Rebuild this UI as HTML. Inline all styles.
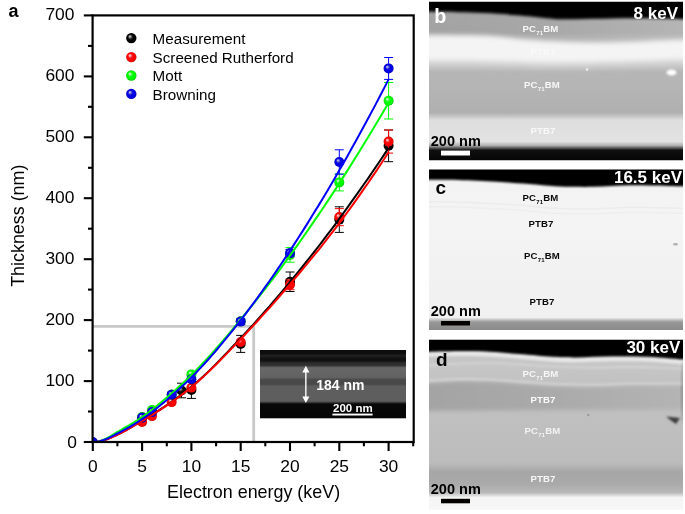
<!DOCTYPE html>
<html><head><meta charset="utf-8"><title>Figure</title>
<style>
html,body{margin:0;padding:0;background:#fff;}
body{width:685px;height:514px;overflow:hidden;font-family:"Liberation Sans",sans-serif;}
svg{display:block;will-change:transform;font-family:"Liberation Sans",sans-serif;}
.tk{font-size:17.4px;fill:#000;}
.lg{font-size:15.2px;fill:#000;}
.ax{font-size:17.9px;fill:#000;}
.pl{font-size:19px;font-weight:bold;}
.kv{font-size:17px;font-weight:bold;fill:#fff;}
.sb{font-size:14.5px;font-weight:bold;fill:#000;}
.ly{font-size:9.6px;font-weight:bold;letter-spacing:0.15px;}
</style></head><body>
<svg width="685" height="514" viewBox="0 0 685 514">
<defs>
<radialGradient id="g_black" cx="0.5" cy="0.5" r="0.5" fx="0.34" fy="0.31"><stop offset="0" stop-color="#dcdcdc"/><stop offset="0.2" stop-color="#888"/><stop offset="0.42" stop-color="#181818"/><stop offset="0.6" stop-color="#000"/><stop offset="1" stop-color="#000"/></radialGradient>
<radialGradient id="g_red" cx="0.5" cy="0.5" r="0.5" fx="0.34" fy="0.31"><stop offset="0" stop-color="#fae6e6"/><stop offset="0.2" stop-color="#f49090"/><stop offset="0.42" stop-color="#ff1010"/><stop offset="0.6" stop-color="#ff0000"/><stop offset="0.85" stop-color="#f80000"/><stop offset="1" stop-color="#c80000"/></radialGradient>
<radialGradient id="g_green" cx="0.5" cy="0.5" r="0.5" fx="0.34" fy="0.31"><stop offset="0" stop-color="#e8fae8"/><stop offset="0.2" stop-color="#98f498"/><stop offset="0.42" stop-color="#10ff10"/><stop offset="0.6" stop-color="#00ff00"/><stop offset="0.85" stop-color="#00f400"/><stop offset="1" stop-color="#00c000"/></radialGradient>
<radialGradient id="g_blue" cx="0.5" cy="0.5" r="0.5" fx="0.34" fy="0.31"><stop offset="0" stop-color="#dcdcf0"/><stop offset="0.2" stop-color="#8080d8"/><stop offset="0.42" stop-color="#1010e0"/><stop offset="0.6" stop-color="#0000e8"/><stop offset="0.85" stop-color="#0000e0"/><stop offset="1" stop-color="#0000a8"/></radialGradient>
<linearGradient id="insetg" x1="0" y1="0" x2="0" y2="1">
<stop offset="0" stop-color="#0c0c0c"/><stop offset="0.055" stop-color="#0e0e0e"/>
<stop offset="0.075" stop-color="#202020"/><stop offset="0.10" stop-color="#1c1c1c"/>
<stop offset="0.13" stop-color="#0e0e0e"/><stop offset="0.16" stop-color="#141414"/>
<stop offset="0.19" stop-color="#2c2c2c"/><stop offset="0.225" stop-color="#323232"/>
<stop offset="0.26" stop-color="#686868"/><stop offset="0.40" stop-color="#626262"/>
<stop offset="0.435" stop-color="#4a4a4a"/><stop offset="0.50" stop-color="#484848"/>
<stop offset="0.53" stop-color="#5e5e5e"/><stop offset="0.75" stop-color="#5e5e5e"/>
<stop offset="0.79" stop-color="#080808"/><stop offset="1" stop-color="#060606"/>
</linearGradient>
<clipPath id="cplot"><rect x="92.6" y="15.4" width="321.1" height="426.6"/></clipPath>
<clipPath id="cb"><rect x="429" y="1.8" width="254" height="158.8"/></clipPath>
<clipPath id="cc"><rect x="429" y="169.6" width="254" height="160.4"/></clipPath>
<clipPath id="cd"><rect x="429" y="339.7" width="254" height="170"/></clipPath>
<filter id="bl0_6" x="-10%" y="-50%" width="120%" height="200%"><feGaussianBlur stdDeviation="0.6"/></filter>
<filter id="bl1" x="-10%" y="-50%" width="120%" height="200%"><feGaussianBlur stdDeviation="1"/></filter>
<filter id="bl1_2" x="-10%" y="-50%" width="120%" height="200%"><feGaussianBlur stdDeviation="1.2"/></filter>
<filter id="bl1_5" x="-10%" y="-50%" width="120%" height="200%"><feGaussianBlur stdDeviation="1.5"/></filter>
<filter id="bl2" x="-10%" y="-50%" width="120%" height="200%"><feGaussianBlur stdDeviation="2"/></filter>
<filter id="bl2_5" x="-10%" y="-50%" width="120%" height="200%"><feGaussianBlur stdDeviation="2.5"/></filter>
<filter id="bl3" x="-10%" y="-50%" width="120%" height="200%"><feGaussianBlur stdDeviation="3"/></filter>
<linearGradient id="gbh" x1="0" y1="0" x2="1" y2="0"><stop offset="0" stop-color="#fff" stop-opacity="0"/><stop offset="0.45" stop-color="#fff" stop-opacity="0.05"/><stop offset="1" stop-color="#fff" stop-opacity="0.2"/></linearGradient>
<linearGradient id="gb" gradientUnits="userSpaceOnUse" x1="0" y1="2" x2="0" y2="160.5">
<stop offset="0" stop-color="#a6a6a6"/>
<stop offset="0.19" stop-color="#a2a2a2"/>
<stop offset="0.36" stop-color="#d0d0d0"/>
<stop offset="0.40" stop-color="#c4c4c4"/>
<stop offset="0.44" stop-color="#b6b6b6"/>
<stop offset="0.55" stop-color="#b4b4b4"/>
<stop offset="0.70" stop-color="#b0b0b0"/>
<stop offset="0.745" stop-color="#dedede"/>
<stop offset="0.88" stop-color="#e2e2e2"/>
<stop offset="0.905" stop-color="#b0b0b0"/>
<stop offset="0.935" stop-color="#101010"/>
<stop offset="1" stop-color="#050505"/>
</linearGradient>
<linearGradient id="gc" gradientUnits="userSpaceOnUse" x1="0" y1="169.7" x2="0" y2="330">
<stop offset="0" stop-color="#f2f2f2"/>
<stop offset="0.3" stop-color="#f4f4f4"/>
<stop offset="0.922" stop-color="#f0f0f0"/>
<stop offset="0.95" stop-color="#989898"/>
<stop offset="1" stop-color="#8a8a8a"/>
</linearGradient>
<linearGradient id="gdv" x1="0" y1="0" x2="1" y2="0"><stop offset="0" stop-color="#000" stop-opacity="0"/><stop offset="1" stop-color="#000" stop-opacity="0.22"/></linearGradient>
<linearGradient id="gdh" gradientUnits="userSpaceOnUse" x1="429" y1="0" x2="683" y2="0"><stop offset="0" stop-color="#a4a4a4"/><stop offset="0.5" stop-color="#aaaaaa"/><stop offset="1" stop-color="#b4b4b4"/></linearGradient>
<linearGradient id="gd" gradientUnits="userSpaceOnUse" x1="0" y1="339.7" x2="0" y2="511.7">
<stop offset="0" stop-color="#c2c2c2"/>
<stop offset="0.153" stop-color="#c6c6c6"/>
<stop offset="0.234" stop-color="#c2c2c2"/>
<stop offset="0.42" stop-color="#c0c0c0"/>
<stop offset="0.583" stop-color="#bebebe"/>
<stop offset="0.715" stop-color="#bcbcbc"/>
<stop offset="0.77" stop-color="#a6a6a6"/>
<stop offset="0.84" stop-color="#aaaaaa"/>
<stop offset="0.888" stop-color="#b8b8b8"/>
<stop offset="0.9175" stop-color="#f4f4f4"/>
<stop offset="1" stop-color="#f8f8f8"/>
</linearGradient>
</defs>
<rect width="685" height="514" fill="#fff"/>

<!-- ===== panel a: plot ===== -->
<text x="8.6" y="17.2" class="pl" style="font-size:18px" fill="#000">a</text>
<!-- gray reference lines -->
<path d="M93,326.3 H253.7 V442" stroke="#c8c8c8" stroke-width="2.8" fill="none"/>
<!-- inset SEM image -->
<g>
<rect x="260" y="350" width="146" height="68.3" fill="url(#insetg)"/>
<path d="M305.85,369 V400" stroke="#fff" stroke-width="1.4"/>
<path d="M305.85,365.8 L302.3,372.4 H309.4 Z M305.85,403 L302.3,396.4 H309.4 Z" fill="#fff"/>
<text x="316.3" y="389.6" font-size="14" font-weight="bold" fill="#fff">184 nm</text>
<text x="333" y="412.2" font-size="11.5" font-weight="bold" fill="#fff">200 nm</text>
<rect x="332.4" y="413.6" width="40.2" height="1.9" fill="#fff"/>
</g>

<g clip-path="url(#cplot)">
<path d="M181.5,383.2 V397.8 M177.0,383.2 H186.0 M177.0,397.8 H186.0" stroke="#000" stroke-width="1" fill="none"/>
<circle cx="181.5" cy="390.5" r="5.0" fill="url(#g_black)"/>
<path d="M191.4,381.4 V398.4 M186.9,381.4 H195.9 M186.9,398.4 H195.9" stroke="#000" stroke-width="1" fill="none"/>
<circle cx="191.4" cy="389.9" r="5.0" fill="url(#g_black)"/>
<path d="M240.7,335.4 V352.4 M236.2,335.4 H245.2 M236.2,352.4 H245.2" stroke="#000" stroke-width="1" fill="none"/>
<circle cx="240.7" cy="343.9" r="5.0" fill="url(#g_black)"/>
<path d="M290.0,272.0 V291.5 M285.5,272.0 H294.5 M285.5,291.5 H294.5" stroke="#000" stroke-width="1" fill="none"/>
<circle cx="290.0" cy="281.7" r="5.0" fill="url(#g_black)"/>
<path d="M339.3,206.8 V232.4 M334.8,206.8 H343.8 M334.8,232.4 H343.8" stroke="#000" stroke-width="1" fill="none"/>
<circle cx="339.3" cy="219.6" r="5.0" fill="url(#g_black)"/>
<path d="M388.6,130.0 V161.7 M384.1,130.0 H393.1 M384.1,161.7 H393.1" stroke="#000" stroke-width="1" fill="none"/>
<circle cx="388.6" cy="145.8" r="5.0" fill="url(#g_black)"/>
<circle cx="142.1" cy="421.9" r="5.0" fill="url(#g_red)"/>
<circle cx="152.0" cy="416.1" r="5.0" fill="url(#g_red)"/>
<circle cx="171.7" cy="402.1" r="5.0" fill="url(#g_red)"/>
<circle cx="191.4" cy="387.8" r="5.0" fill="url(#g_red)"/>
<circle cx="240.7" cy="342.1" r="5.0" fill="url(#g_red)"/>
<path d="M290.0,279.9 V289.7 M285.5,279.9 H294.5 M285.5,289.7 H294.5" stroke="#f00" stroke-width="1" fill="none"/>
<circle cx="290.0" cy="284.8" r="5.0" fill="url(#g_red)"/>
<path d="M339.3,208.6 V225.7 M334.8,208.6 H343.8 M334.8,225.7 H343.8" stroke="#f00" stroke-width="1" fill="none"/>
<circle cx="339.3" cy="217.1" r="5.0" fill="url(#g_red)"/>
<path d="M388.6,130.0 V153.1 M384.1,130.0 H393.1 M384.1,153.1 H393.1" stroke="#f00" stroke-width="1" fill="none"/>
<circle cx="388.6" cy="141.6" r="5.0" fill="url(#g_red)"/>
<circle cx="142.1" cy="417.0" r="5.0" fill="url(#g_green)"/>
<circle cx="152.0" cy="410.0" r="5.0" fill="url(#g_green)"/>
<circle cx="171.7" cy="394.5" r="5.0" fill="url(#g_green)"/>
<circle cx="191.4" cy="374.4" r="5.0" fill="url(#g_green)"/>
<path d="M240.7,318.3 V324.4 M236.2,318.3 H245.2 M236.2,324.4 H245.2" stroke="#0f0" stroke-width="1" fill="none"/>
<circle cx="240.7" cy="321.3" r="5.0" fill="url(#g_green)"/>
<path d="M290.0,247.6 V262.2 M285.5,247.6 H294.5 M285.5,262.2 H294.5" stroke="#0f0" stroke-width="1" fill="none"/>
<circle cx="290.0" cy="254.9" r="5.0" fill="url(#g_green)"/>
<path d="M339.3,173.9 V190.9 M334.8,173.9 H343.8 M334.8,190.9 H343.8" stroke="#0f0" stroke-width="1" fill="none"/>
<circle cx="339.3" cy="182.4" r="5.0" fill="url(#g_green)"/>
<path d="M388.6,82.5 V119.0 M384.1,82.5 H393.1 M384.1,119.0 H393.1" stroke="#0f0" stroke-width="1" fill="none"/>
<circle cx="388.6" cy="100.7" r="5.0" fill="url(#g_green)"/>
<circle cx="92.8" cy="442.0" r="5.0" fill="url(#g_blue)"/>
<circle cx="142.1" cy="417.6" r="5.0" fill="url(#g_blue)"/>
<circle cx="152.0" cy="412.1" r="5.0" fill="url(#g_blue)"/>
<path d="M171.7,392.3 V397.2 M167.2,392.3 H176.2 M167.2,397.2 H176.2" stroke="#00f" stroke-width="1" fill="none"/>
<circle cx="171.7" cy="394.8" r="5.0" fill="url(#g_blue)"/>
<circle cx="191.4" cy="379.2" r="5.0" fill="url(#g_blue)"/>
<path d="M240.7,318.6 V324.7 M236.2,318.6 H245.2 M236.2,324.7 H245.2" stroke="#00f" stroke-width="1" fill="none"/>
<circle cx="240.7" cy="321.6" r="5.0" fill="url(#g_blue)"/>
<path d="M290.0,249.4 V256.7 M285.5,249.4 H294.5 M285.5,256.7 H294.5" stroke="#00f" stroke-width="1" fill="none"/>
<circle cx="290.0" cy="253.1" r="5.0" fill="url(#g_blue)"/>
<path d="M339.3,149.8 V174.2 M334.8,149.8 H343.8 M334.8,174.2 H343.8" stroke="#00f" stroke-width="1" fill="none"/>
<circle cx="339.3" cy="162.0" r="5.0" fill="url(#g_blue)"/>
<path d="M388.6,57.5 V79.4 M384.1,57.5 H393.1 M384.1,79.4 H393.1" stroke="#00f" stroke-width="1" fill="none"/>
<circle cx="388.6" cy="68.4" r="5.0" fill="url(#g_blue)"/>
<path d="M96.3,442.0 L97.0,441.9 L97.7,441.8 L98.5,441.7 L99.2,441.5 L99.9,441.4 L100.7,441.2 L101.4,441.0 L102.2,440.8 L102.9,440.5 L103.6,440.3 L104.4,440.0 L105.1,439.8 L106.2,439.5 L107.2,439.1 L108.2,438.7 L109.2,438.3 L110.3,437.8 L111.3,437.4 L112.3,436.9 L113.3,436.4 L114.4,436.0 L115.4,435.5 L116.4,435.0 L117.4,434.5 L119.5,433.5 L121.6,432.5 L123.6,431.4 L125.7,430.3 L127.7,429.1 L129.8,428.0 L131.8,426.8 L133.9,425.6 L135.9,424.4 L138.0,423.1 L140.0,421.9 L142.1,420.7 L144.2,419.4 L146.2,418.2 L148.3,417.0 L150.3,415.7 L152.4,414.5 L154.4,413.2 L156.5,411.9 L158.5,410.6 L160.6,409.2 L162.6,407.9 L164.7,406.5 L166.8,405.1 L168.8,403.7 L170.9,402.3 L172.9,400.8 L175.0,399.4 L177.0,397.9 L179.1,396.4 L181.1,394.9 L183.2,393.3 L185.2,391.8 L187.3,390.2 L189.3,388.5 L191.4,386.8 L195.5,383.4 L199.6,379.7 L203.7,376.0 L207.8,372.1 L211.9,368.1 L216.1,363.9 L220.2,359.8 L224.3,355.5 L228.4,351.2 L232.5,346.8 L236.6,342.5 L240.7,338.1 L244.8,333.7 L248.9,329.3 L253.0,324.8 L257.1,320.2 L261.2,315.6 L265.3,311.0 L269.5,306.3 L273.6,301.5 L277.7,296.7 L281.8,291.9 L285.9,287.0 L290.0,282.0 L294.1,277.0 L298.2,272.0 L302.3,266.9 L306.4,261.7 L310.5,256.5 L314.6,251.3 L318.8,246.0 L322.9,240.6 L327.0,235.2 L331.1,229.8 L335.2,224.3 L339.3,218.7 L343.4,213.1 L347.5,207.4 L351.6,201.7 L355.7,195.9 L359.8,190.1 L363.9,184.2 L368.1,178.3 L372.2,172.3 L376.3,166.3 L380.4,160.2 L384.5,154.1 L388.6,147.9" stroke="#000000" stroke-width="2" fill="none" stroke-linejoin="round"/>
<path d="M96.3,442.0 L97.0,441.9 L97.7,441.8 L98.5,441.7 L99.2,441.6 L99.9,441.4 L100.7,441.2 L101.4,441.0 L102.2,440.8 L102.9,440.6 L103.6,440.4 L104.4,440.2 L105.1,439.9 L106.2,439.6 L107.2,439.2 L108.2,438.8 L109.2,438.4 L110.3,438.0 L111.3,437.5 L112.3,437.1 L113.3,436.6 L114.4,436.1 L115.4,435.7 L116.4,435.2 L117.4,434.7 L119.5,433.7 L121.6,432.7 L123.6,431.6 L125.7,430.5 L127.7,429.4 L129.8,428.2 L131.8,427.0 L133.9,425.8 L135.9,424.6 L138.0,423.4 L140.0,422.2 L142.1,421.0 L144.2,419.8 L146.2,418.5 L148.3,417.3 L150.3,416.0 L152.4,414.8 L154.4,413.5 L156.5,412.2 L158.5,410.9 L160.6,409.6 L162.6,408.2 L164.7,406.8 L166.8,405.4 L168.8,404.0 L170.9,402.6 L172.9,401.1 L175.0,399.7 L177.0,398.2 L179.1,396.7 L181.1,395.2 L183.2,393.6 L185.2,392.1 L187.3,390.5 L189.3,388.8 L191.4,387.2 L195.5,383.7 L199.6,380.1 L203.7,376.4 L207.8,372.5 L211.9,368.5 L216.1,364.5 L220.2,360.3 L224.3,356.1 L228.4,351.9 L232.5,347.6 L236.6,343.3 L240.7,339.0 L244.8,334.7 L248.9,330.3 L253.0,325.9 L257.1,321.5 L261.2,316.9 L265.3,312.4 L269.5,307.8 L273.6,303.2 L277.7,298.5 L281.8,293.7 L285.9,289.0 L290.0,284.2 L294.1,279.3 L298.2,274.5 L302.3,269.6 L306.4,264.6 L310.5,259.7 L314.6,254.6 L318.8,249.6 L322.9,244.4 L327.0,239.2 L331.1,233.9 L335.2,228.6 L339.3,223.1 L343.4,217.6 L347.5,212.0 L351.6,206.3 L355.7,200.6 L359.8,194.8 L363.9,188.9 L368.1,183.0 L372.2,176.9 L376.3,170.9 L380.4,164.7 L384.5,158.5 L388.6,152.2" stroke="#ff0000" stroke-width="2" fill="none" stroke-linejoin="round"/>
<path d="M96.3,442.0 L97.0,441.9 L97.7,441.8 L98.5,441.6 L99.2,441.4 L99.9,441.1 L100.7,440.8 L101.4,440.6 L102.2,440.3 L102.9,439.9 L103.6,439.6 L104.4,439.3 L105.1,439.0 L106.2,438.5 L107.2,438.0 L108.2,437.4 L109.2,436.9 L110.3,436.3 L111.3,435.7 L112.3,435.1 L113.3,434.4 L114.4,433.8 L115.4,433.2 L116.4,432.5 L117.4,431.9 L119.5,430.8 L121.6,429.6 L123.6,428.4 L125.7,427.2 L127.7,426.0 L129.8,424.8 L131.8,423.6 L133.9,422.4 L135.9,421.1 L138.0,419.8 L140.0,418.4 L142.1,417.0 L144.2,415.6 L146.2,414.1 L148.3,412.5 L150.3,411.0 L152.4,409.4 L154.4,407.7 L156.5,406.1 L158.5,404.4 L160.6,402.7 L162.6,401.0 L164.7,399.3 L166.8,397.5 L168.8,395.8 L170.9,394.0 L172.9,392.2 L175.0,390.4 L177.0,388.5 L179.1,386.6 L181.1,384.8 L183.2,382.9 L185.2,380.9 L187.3,379.0 L189.3,377.0 L191.4,375.0 L195.5,370.9 L199.6,366.6 L203.7,362.3 L207.8,357.8 L211.9,353.3 L216.1,348.6 L220.2,343.9 L224.3,339.1 L228.4,334.3 L232.5,329.4 L236.6,324.5 L240.7,319.5 L244.8,314.5 L248.9,309.4 L253.0,304.3 L257.1,299.1 L261.2,293.9 L265.3,288.6 L269.5,283.2 L273.6,277.8 L277.7,272.3 L281.8,266.8 L285.9,261.2 L290.0,255.5 L294.1,249.8 L298.2,244.1 L302.3,238.2 L306.4,232.4 L310.5,226.4 L314.6,220.4 L318.8,214.4 L322.9,208.3 L327.0,202.1 L331.1,195.9 L335.2,189.6 L339.3,183.2 L343.4,176.9 L347.5,170.4 L351.6,163.9 L355.7,157.3 L359.8,150.7 L363.9,144.0 L368.1,137.3 L372.2,130.5 L376.3,123.6 L380.4,116.7 L384.5,109.7 L388.6,102.7" stroke="#00ff00" stroke-width="2" fill="none" stroke-linejoin="round"/>
<path d="M96.3,442.0 L97.0,441.9 L97.7,441.8 L98.5,441.6 L99.2,441.5 L99.9,441.3 L100.7,441.0 L101.4,440.8 L102.2,440.5 L102.9,440.3 L103.6,440.0 L104.4,439.7 L105.1,439.4 L106.2,439.0 L107.2,438.6 L108.2,438.2 L109.2,437.7 L110.3,437.2 L111.3,436.7 L112.3,436.2 L113.3,435.6 L114.4,435.1 L115.4,434.5 L116.4,434.0 L117.4,433.5 L119.5,432.4 L121.6,431.3 L123.6,430.2 L125.7,429.1 L127.7,428.0 L129.8,426.8 L131.8,425.6 L133.9,424.4 L135.9,423.1 L138.0,421.9 L140.0,420.5 L142.1,419.1 L144.2,417.7 L146.2,416.3 L148.3,414.8 L150.3,413.2 L152.4,411.7 L154.4,410.1 L156.5,408.4 L158.5,406.8 L160.6,405.1 L162.6,403.4 L164.7,401.7 L166.8,400.0 L168.8,398.2 L170.9,396.4 L172.9,394.6 L175.0,392.8 L177.0,391.0 L179.1,389.1 L181.1,387.3 L183.2,385.3 L185.2,383.4 L187.3,381.4 L189.3,379.4 L191.4,377.4 L195.5,373.2 L199.6,368.9 L203.7,364.5 L207.8,360.0 L211.9,355.3 L216.1,350.5 L220.2,345.7 L224.3,340.7 L228.4,335.7 L232.5,330.6 L236.6,325.4 L240.7,320.1 L244.8,314.8 L248.9,309.4 L253.0,303.9 L257.1,298.3 L261.2,292.6 L265.3,286.8 L269.5,281.0 L273.6,275.1 L277.7,269.1 L281.8,263.0 L285.9,256.9 L290.0,250.6 L294.1,244.4 L298.2,238.0 L302.3,231.6 L306.4,225.1 L310.5,218.5 L314.6,211.8 L318.8,205.1 L322.9,198.3 L327.0,191.4 L331.1,184.5 L335.2,177.4 L339.3,170.3 L343.4,163.2 L347.5,155.9 L351.6,148.6 L355.7,141.2 L359.8,133.7 L363.9,126.2 L368.1,118.6 L372.2,110.9 L376.3,103.1 L380.4,95.3 L384.5,87.4 L388.6,79.4" stroke="#0000ff" stroke-width="2" fill="none" stroke-linejoin="round"/>
</g>
<!-- frame -->
<rect x="92.6" y="15.4" width="321.1" height="426.6" fill="none" stroke="#000" stroke-width="2.2"/>
<path d="M83.8,442.0 H93" stroke="#000" stroke-width="2.1"/>
<text x="76.9" y="447.7" text-anchor="end" class="tk">0</text>
<path d="M83.8,381.1 H93" stroke="#000" stroke-width="2.1"/>
<text x="74.4" y="386.1" text-anchor="end" class="tk">100</text>
<path d="M83.8,320.1 H93" stroke="#000" stroke-width="2.1"/>
<text x="74.4" y="325.1" text-anchor="end" class="tk">200</text>
<path d="M83.8,259.2 H93" stroke="#000" stroke-width="2.1"/>
<text x="74.4" y="264.2" text-anchor="end" class="tk">300</text>
<path d="M83.8,198.2 H93" stroke="#000" stroke-width="2.1"/>
<text x="74.4" y="203.2" text-anchor="end" class="tk">400</text>
<path d="M83.8,137.3 H93" stroke="#000" stroke-width="2.1"/>
<text x="74.4" y="142.3" text-anchor="end" class="tk">500</text>
<path d="M83.8,76.4 H93" stroke="#000" stroke-width="2.1"/>
<text x="74.4" y="81.4" text-anchor="end" class="tk">600</text>
<path d="M83.8,15.4 H93" stroke="#000" stroke-width="2.1"/>
<text x="74.4" y="20.4" text-anchor="end" class="tk">700</text>
<path d="M88,411.5 H93" stroke="#000" stroke-width="2.1"/>
<path d="M88,350.6 H93" stroke="#000" stroke-width="2.1"/>
<path d="M88,289.6 H93" stroke="#000" stroke-width="2.1"/>
<path d="M88,228.7 H93" stroke="#000" stroke-width="2.1"/>
<path d="M88,167.8 H93" stroke="#000" stroke-width="2.1"/>
<path d="M88,106.8 H93" stroke="#000" stroke-width="2.1"/>
<path d="M88,45.9 H93" stroke="#000" stroke-width="2.1"/>
<path d="M92.8,442 V451" stroke="#000" stroke-width="2.1"/>
<text x="92.8" y="472" text-anchor="middle" class="tk">0</text>
<path d="M142.1,442 V451" stroke="#000" stroke-width="2.1"/>
<text x="142.1" y="472" text-anchor="middle" class="tk">5</text>
<path d="M191.4,442 V451" stroke="#000" stroke-width="2.1"/>
<text x="191.4" y="472" text-anchor="middle" class="tk">10</text>
<path d="M240.7,442 V451" stroke="#000" stroke-width="2.1"/>
<text x="240.7" y="472" text-anchor="middle" class="tk">15</text>
<path d="M290.0,442 V451" stroke="#000" stroke-width="2.1"/>
<text x="290.0" y="472" text-anchor="middle" class="tk">20</text>
<path d="M339.3,442 V451" stroke="#000" stroke-width="2.1"/>
<text x="339.3" y="472" text-anchor="middle" class="tk">25</text>
<path d="M388.6,442 V451" stroke="#000" stroke-width="2.1"/>
<text x="388.6" y="472" text-anchor="middle" class="tk">30</text>
<path d="M117.4,442 V446.3" stroke="#000" stroke-width="2.1"/>
<path d="M166.8,442 V446.3" stroke="#000" stroke-width="2.1"/>
<path d="M216.1,442 V446.3" stroke="#000" stroke-width="2.1"/>
<path d="M265.3,442 V446.3" stroke="#000" stroke-width="2.1"/>
<path d="M314.6,442 V446.3" stroke="#000" stroke-width="2.1"/>
<path d="M363.9,442 V446.3" stroke="#000" stroke-width="2.1"/>
<path d="M413.2,442 V446.3" stroke="#000" stroke-width="2.1"/>
<text x="253.6" y="497.5" text-anchor="middle" class="ax">Electron energy (keV)</text>
<text transform="translate(23.6,225.7) rotate(-90)" text-anchor="middle" class="ax">Thickness (nm)</text>
<!-- legend -->
<circle cx="131.3" cy="38.1" r="5.2" fill="url(#g_black)"/>
<circle cx="131.3" cy="57.1" r="5.2" fill="url(#g_red)"/>
<circle cx="131.3" cy="75.5" r="5.2" fill="url(#g_green)"/>
<circle cx="131.3" cy="93.9" r="5.2" fill="url(#g_blue)"/>
<text x="152.6" y="43.9" class="lg">Measurement</text>
<text x="152.6" y="62.8" class="lg">Screened Rutherford</text>
<text x="152.6" y="81.3" class="lg">Mott</text>
<text x="152.6" y="99.7" class="lg">Browning</text>

<g clip-path="url(#cb)">
<rect x="429" y="2" width="256" height="158.5" fill="url(#gb)"/>
<rect x="429" y="2" width="254" height="45" fill="url(#gbh)"/>
<path d="M420.0,41.0 C421.5,41.0 421.8,41.0 429.0,41.0 C436.2,41.0 452.7,41.1 463.0,41.3 C473.3,41.5 481.5,41.4 491.0,42.0 C500.5,42.6 509.5,44.0 520.0,44.9 C530.5,45.8 541.8,46.7 554.0,47.3 C566.2,47.9 580.2,48.6 593.0,48.7 C605.8,48.8 618.3,48.4 631.0,48.0 C643.7,47.6 660.3,46.5 669.0,46.2 C677.7,45.9 678.7,46.0 683.0,46.0 C687.3,46.0 693.0,46.0 695.0,46.0 L695.0,64.5 C693.0,64.5 687.3,64.5 683.0,64.5 C678.7,64.5 680.8,64.4 669.0,64.7 C657.2,65.0 631.2,66.1 612.0,66.6 C592.8,67.1 574.2,67.6 554.0,67.5 C533.8,67.4 511.8,66.3 491.0,66.0 C470.2,65.7 440.8,65.6 429.0,65.5 C417.2,65.4 421.5,65.5 420.0,65.5 Z" fill="#d4d4d4" filter="url(#bl3)"/>
<path d="M420.0,35.0 C421.5,35.0 421.8,35.0 429.0,35.0 C436.2,35.0 452.7,35.1 463.0,35.3 C473.3,35.5 481.5,35.4 491.0,36.0 C500.5,36.6 509.5,38.0 520.0,38.9 C530.5,39.8 541.8,40.7 554.0,41.3 C566.2,41.9 580.2,42.6 593.0,42.7 C605.8,42.8 618.3,42.4 631.0,42.0 C643.7,41.6 660.3,40.5 669.0,40.2 C677.7,39.9 678.7,40.0 683.0,40.0 C687.3,40.0 693.0,40.0 695.0,40.0 L695.0,59.5 C693.0,59.5 687.3,59.5 683.0,59.5 C678.7,59.5 680.8,59.4 669.0,59.7 C657.2,60.1 631.2,61.1 612.0,61.6 C592.8,62.1 574.2,62.6 554.0,62.5 C533.8,62.4 511.8,61.3 491.0,61.0 C470.2,60.7 440.8,60.6 429.0,60.5 C417.2,60.4 421.5,60.5 420.0,60.5 Z" fill="#f4f4f4" filter="url(#bl2_5)"/>
<path d="M420,90.3 H695" stroke="#a4a4a4" stroke-width="1.2" filter="url(#bl0_6)"/>
<path d="M420.0,-10.0 L420.0,11.8 C421.5,11.8 421.8,11.7 429.0,11.8 C436.2,11.9 452.7,12.1 463.0,12.3 C473.3,12.6 481.5,12.8 491.0,13.3 C500.5,13.9 509.5,14.7 520.0,15.6 C530.5,16.6 545.0,18.4 554.0,19.0 C563.0,19.6 567.5,19.2 574.0,19.2 C580.5,19.2 586.7,18.9 593.0,18.8 C599.3,18.7 605.7,18.5 612.0,18.4 C618.3,18.3 624.7,18.2 631.0,18.2 C637.3,18.2 643.7,18.1 650.0,18.2 C656.3,18.3 663.5,18.6 669.0,18.8 C674.5,19.0 678.7,19.1 683.0,19.2 C687.3,19.3 693.0,19.2 695.0,19.2 L695.0,-10.0 Z" fill="#030303" filter="url(#bl1_5)"/>
<ellipse cx="671.5" cy="72.5" rx="5" ry="3" fill="#fff" filter="url(#bl1)"/>
<circle cx="587" cy="69.6" r="1.3" fill="#eee" filter="url(#bl0_6)"/>
</g>
<text x="434.3" y="22.8" class="pl" style="font-size:19.8px" fill="#fff">b</text>
<text x="678" y="18.6" text-anchor="end" class="kv">8 keV</text>
<text x="430.8" y="145.9" class="sb">200 nm</text>
<rect x="441" y="150.6" width="29" height="4.9" fill="#fff"/>
<text x="540.5" y="31.7" class="ly" fill="#fff" opacity="0.9" text-anchor="middle">PC<tspan font-size="6" dy="2.8">71</tspan><tspan dy="-2.8">BM</tspan></text>
<text x="543.0" y="55.2" class="ly" fill="#fff" opacity="0.5" text-anchor="middle">PTB7</text>
<text x="542.0" y="87.7" class="ly" fill="#fff" opacity="0.9" text-anchor="middle">PC<tspan font-size="6" dy="2.8">71</tspan><tspan dy="-2.8">BM</tspan></text>
<text x="543.0" y="134.2" class="ly" fill="#fff" opacity="0.8" text-anchor="middle">PTB7</text>
<g clip-path="url(#cc)">
<rect x="429" y="169.7" width="256" height="160.3" fill="url(#gc)"/>
<path d="M420.0,201.8 C421.5,201.8 421.8,201.7 429.0,201.8 C436.2,201.9 451.0,201.8 463.0,202.2 C475.0,202.6 490.0,203.4 501.0,204.0 C512.0,204.6 520.0,205.3 529.0,206.0 C538.0,206.7 547.5,207.8 555.0,208.3 C562.5,208.8 567.7,208.7 574.0,208.8 C580.3,208.9 586.7,209.0 593.0,208.8 C599.3,208.7 605.7,208.2 612.0,207.9 C618.3,207.7 624.7,207.4 631.0,207.3 C637.3,207.2 643.7,207.4 650.0,207.5 C656.3,207.6 663.5,207.8 669.0,207.9 C674.5,208.0 678.7,208.2 683.0,208.3 C687.3,208.4 693.0,208.3 695.0,208.3" stroke="#ececec" stroke-width="1.5" fill="none" filter="url(#bl0_6)"/>
<path d="M420.0,206.8 C421.5,206.8 421.8,206.7 429.0,206.8 C436.2,206.9 451.0,206.8 463.0,207.2 C475.0,207.6 490.0,208.4 501.0,209.0 C512.0,209.6 520.0,210.3 529.0,211.0 C538.0,211.7 547.5,212.8 555.0,213.3 C562.5,213.8 567.7,213.7 574.0,213.8 C580.3,213.9 586.7,214.0 593.0,213.8 C599.3,213.7 605.7,213.2 612.0,212.9 C618.3,212.7 624.7,212.4 631.0,212.3 C637.3,212.2 643.7,212.4 650.0,212.5 C656.3,212.6 663.5,212.8 669.0,212.9 C674.5,213.0 678.7,213.2 683.0,213.3 C687.3,213.4 693.0,213.3 695.0,213.3" stroke="#eeeeee" stroke-width="1.5" fill="none" filter="url(#bl0_6)"/>
<path d="M420,234 H695" stroke="#ebebeb" stroke-width="1.5" filter="url(#bl0_6)"/>
<path d="M420,260 H695" stroke="#ebebeb" stroke-width="1.5" filter="url(#bl0_6)"/>
<path d="M420,289 H695" stroke="#ebebeb" stroke-width="1.5" filter="url(#bl0_6)"/>
<path d="M420.0,150.0 L420.0,179.8 C421.5,179.8 421.8,179.7 429.0,179.8 C436.2,179.9 451.0,179.8 463.0,180.2 C475.0,180.6 490.0,181.4 501.0,182.0 C512.0,182.6 520.0,183.3 529.0,184.0 C538.0,184.7 547.5,185.8 555.0,186.3 C562.5,186.8 567.7,186.7 574.0,186.8 C580.3,186.9 586.7,187.0 593.0,186.8 C599.3,186.7 605.7,186.2 612.0,185.9 C618.3,185.7 624.7,185.4 631.0,185.3 C637.3,185.2 643.7,185.4 650.0,185.5 C656.3,185.6 663.5,185.8 669.0,185.9 C674.5,186.0 678.7,186.2 683.0,186.3 C687.3,186.4 693.0,186.3 695.0,186.3 L695.0,150.0 Z" fill="#030303" filter="url(#bl1_2)"/>
<ellipse cx="675.5" cy="244.3" rx="2.5" ry="1.3" fill="#b0b0b0" filter="url(#bl0_6)"/>
</g>
<text x="435.4" y="193.6" class="pl" fill="#000">c</text>
<text x="682" y="183.2" text-anchor="end" class="kv">16.5 keV</text>
<text x="430.8" y="316.1" class="sb">200 nm</text>
<rect x="441" y="321" width="29" height="4.5" fill="#050000"/>
<text x="540.5" y="200.7" class="ly" fill="#0a0a0a" opacity="1" text-anchor="middle">PC<tspan font-size="6" dy="2.8">71</tspan><tspan dy="-2.8">BM</tspan></text>
<text x="541.0" y="227.2" class="ly" fill="#0a0a0a" opacity="1" text-anchor="middle">PTB7</text>
<text x="542.0" y="258.7" class="ly" fill="#0a0a0a" opacity="1" text-anchor="middle">PC<tspan font-size="6" dy="2.8">71</tspan><tspan dy="-2.8">BM</tspan></text>
<text x="542.0" y="305.0" class="ly" fill="#0a0a0a" opacity="1" text-anchor="middle">PTB7</text>
<g clip-path="url(#cd)">
<rect x="429" y="339.7" width="256" height="172" fill="url(#gd)"/>
<path d="M420.0,383.0 C421.5,383.0 421.8,383.2 429.0,383.0 C436.2,382.8 452.7,381.6 463.0,381.5 C473.3,381.4 481.5,381.7 491.0,382.1 C500.5,382.5 509.5,383.3 520.0,384.0 C530.5,384.7 541.8,385.9 554.0,386.4 C566.2,386.9 580.2,387.3 593.0,387.2 C605.8,387.1 618.3,386.1 631.0,385.9 C643.7,385.7 660.3,385.9 669.0,385.9 C677.7,385.9 678.7,385.9 683.0,385.9 C687.3,385.9 693.0,385.9 695.0,385.9 L695.0,409.5 C693.0,409.5 705.5,409.4 683.0,409.5 C660.5,409.6 590.5,409.8 560.0,410.0 C529.5,410.2 521.8,410.4 500.0,410.5 C478.2,410.6 442.3,410.8 429.0,410.9 C415.7,411.0 421.5,410.9 420.0,410.9 Z" fill="url(#gdh)" filter="url(#bl2)"/>
<path d="M420.0,380.5 C421.5,380.5 421.8,380.8 429.0,380.5 C436.2,380.2 452.7,379.1 463.0,379.0 C473.3,378.9 481.5,379.2 491.0,379.6 C500.5,380.0 509.5,380.8 520.0,381.5 C530.5,382.2 541.8,383.4 554.0,383.9 C566.2,384.4 580.2,384.8 593.0,384.7 C605.8,384.6 618.3,383.6 631.0,383.4 C643.7,383.2 660.3,383.4 669.0,383.4 C677.7,383.4 678.7,383.4 683.0,383.4 C687.3,383.4 693.0,383.4 695.0,383.4" stroke="#d6d6d6" stroke-width="1.8" fill="none" filter="url(#bl1)"/>
<path d="M420.0,365.4 C421.5,365.4 421.8,365.7 429.0,365.4 C436.2,365.1 452.7,363.9 463.0,363.5 C473.3,363.1 481.5,362.9 491.0,363.0 C500.5,363.1 509.5,363.8 520.0,364.4 C530.5,365.0 541.8,366.0 554.0,366.5 C566.2,367.0 580.2,367.5 593.0,367.6 C605.8,367.7 618.3,366.8 631.0,366.9 C643.7,367.0 660.3,367.9 669.0,368.2 C677.7,368.5 678.7,368.4 683.0,368.5 C687.3,368.6 693.0,368.5 695.0,368.5" stroke="#d6d6d6" stroke-width="1.6" fill="none" filter="url(#bl1)"/>
<path d="M420,437.6 H695" stroke="#d4d4d4" stroke-width="1.3" filter="url(#bl0_6)" opacity="0.9"/>
<path d="M420,477.6 H695" stroke="#bababa" stroke-width="1.2" filter="url(#bl0_6)"/>
<path d="M420,410.3 H695" stroke="#cecece" stroke-width="1.2" filter="url(#bl0_6)"/>
<path d="M420.0,354.2 C421.5,354.2 421.8,354.3 429.0,354.2 C436.2,354.1 452.7,353.6 463.0,353.6 C473.3,353.6 481.5,353.7 491.0,354.2 C500.5,354.7 509.5,355.6 520.0,356.5 C530.5,357.4 545.0,358.7 554.0,359.3 C563.0,359.9 567.5,359.9 574.0,359.9 C580.5,359.9 586.7,359.5 593.0,359.3 C599.3,359.1 605.7,358.9 612.0,358.8 C618.3,358.7 624.7,358.7 631.0,358.8 C637.3,358.9 643.7,359.0 650.0,359.3 C656.3,359.6 663.5,360.3 669.0,360.7 C674.5,361.1 678.7,361.6 683.0,361.8 C687.3,362.0 693.0,361.8 695.0,361.8" stroke="#e6e6e6" stroke-width="5" fill="none" filter="url(#bl1)"/>
<path d="M420.0,320.0 L420.0,351.7 C421.5,351.7 421.8,351.8 429.0,351.7 C436.2,351.6 452.7,351.1 463.0,351.1 C473.3,351.1 481.5,351.2 491.0,351.7 C500.5,352.2 509.5,353.1 520.0,354.0 C530.5,354.9 545.0,356.2 554.0,356.8 C563.0,357.4 567.5,357.4 574.0,357.4 C580.5,357.4 586.7,357.0 593.0,356.8 C599.3,356.6 605.7,356.4 612.0,356.3 C618.3,356.2 624.7,356.2 631.0,356.3 C637.3,356.4 643.7,356.5 650.0,356.8 C656.3,357.1 663.5,357.8 669.0,358.2 C674.5,358.6 678.7,359.1 683.0,359.3 C687.3,359.5 693.0,359.3 695.0,359.3 L695.0,320.0 Z" fill="#030303" filter="url(#bl1)"/>
<path d="M666,416.5 L680,418 L676,424 L671,420.5 Z" fill="#3c3c3c" filter="url(#bl1)"/>
<ellipse cx="684" cy="392" rx="3" ry="32" fill="#000" opacity="0.18" filter="url(#bl1_5)"/>
<circle cx="588.3" cy="415" r="1.2" fill="#999" filter="url(#bl0_6)"/>
</g>
<text x="436" y="366.4" class="pl" fill="#000">d</text>
<text x="680.3" y="353.2" text-anchor="end" class="kv">30 keV</text>
<text x="430.8" y="494.2" class="sb">200 nm</text>
<rect x="441" y="498.8" width="29" height="4.5" fill="#050000"/>
<text x="540.5" y="377.2" class="ly" fill="#fff" opacity="0.85" text-anchor="middle">PC<tspan font-size="6" dy="2.8">71</tspan><tspan dy="-2.8">BM</tspan></text>
<text x="543.0" y="403.2" class="ly" fill="#fff" opacity="0.95" text-anchor="middle">PTB7</text>
<text x="542.5" y="433.7" class="ly" fill="#fff" opacity="0.8" text-anchor="middle">PC<tspan font-size="6" dy="2.8">71</tspan><tspan dy="-2.8">BM</tspan></text>
<text x="543.0" y="482.2" class="ly" fill="#fff" opacity="0.9" text-anchor="middle">PTB7</text>
</svg>
</body></html>
